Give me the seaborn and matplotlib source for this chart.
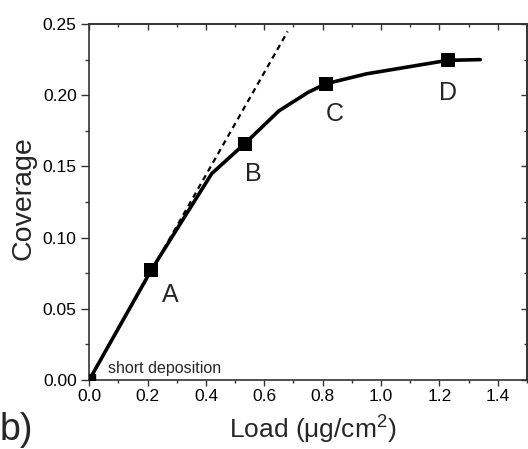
import matplotlib
matplotlib.use("Agg")
import matplotlib.pyplot as plt
from matplotlib.ticker import MultipleLocator, FormatStrFormatter
import seaborn as sns
import pandas as pd

# Coverage curve vs. load
load = [0.0, 0.212, 0.42, 0.533, 0.65, 0.75, 0.81, 0.95, 1.228, 1.34]
coverage = [0.0, 0.077, 0.145, 0.166, 0.189, 0.202, 0.208, 0.215, 0.2245, 0.225]

# Marked samples
point_names = ["A", "B", "C", "D"]
point_load = [0.212, 0.533, 0.81, 1.228]
point_cov = [0.077, 0.166, 0.208, 0.2245]

# Initial linear slope (short deposition)
tangent_load = [0.0, 0.68]
tangent_cov = [0.0, 0.2448]

sns.set_theme(style="ticks")
plt.rcParams["font.family"] = ["Liberation Sans", "DejaVu Sans"]
plt.rcParams["mathtext.fontset"] = "custom"
plt.rcParams["mathtext.rm"] = "Liberation Sans"
plt.rcParams["mathtext.it"] = "Liberation Sans:italic"

fig = plt.figure(figsize=(5.28, 4.49), dpi=100)
ax = fig.add_axes([0.169, 0.1537, 0.829, 0.7928])

curve = pd.DataFrame({"load": load, "coverage": coverage})
tangent = pd.DataFrame({"load": tangent_load, "coverage": tangent_cov})
points = pd.DataFrame({"load": point_load, "coverage": point_cov, "name": point_names})

sns.lineplot(data=tangent, x="load", y="coverage", ax=ax, color="black",
             lw=1.6, linestyle=(0, (2.5, 2.0)), sort=False)
sns.lineplot(data=curve, x="load", y="coverage", ax=ax, color="black",
             lw=2.6, sort=False)
sns.scatterplot(data=points, x="load", y="coverage", ax=ax, color="black",
                marker="s", s=95, edgecolor="black", linewidth=0, zorder=5)
ax.plot([0.0], [0.0], marker="s", ms=8, color="black", clip_on=True, zorder=5)

label_pos = {"A": (0.279, 0.060), "B": (0.564, 0.145),
             "C": (0.840, 0.187), "D": (1.231, 0.2018)}
for name in point_names:
    x, y = label_pos[name]
    ax.text(x, y, name, fontsize=18, ha="center", va="center")

ax.text(0.065, 0.005, "short deposition", fontsize=11.5, ha="left", va="baseline")

ax.set_xlim(0, 1.5)
ax.set_ylim(0, 0.25)
ax.xaxis.set_major_locator(MultipleLocator(0.2))
ax.xaxis.set_minor_locator(MultipleLocator(0.1))
ax.yaxis.set_major_locator(MultipleLocator(0.05))
ax.yaxis.set_minor_locator(MultipleLocator(0.025))
ax.xaxis.set_major_formatter(FormatStrFormatter("%.1f"))
ax.yaxis.set_major_formatter(FormatStrFormatter("%.2f"))
ax.set_xticks([0.0, 0.2, 0.4, 0.6, 0.8, 1.0, 1.2, 1.4])

# outward ticks on left/bottom
ax.tick_params(which="both", direction="out", color="#333333", width=1.0,
               labelsize=12.5, labelcolor="black")
ax.tick_params(axis="x", which="major", length=4.2, pad=2.5)
ax.tick_params(axis="x", which="minor", length=2.5)
ax.tick_params(axis="y", which="major", length=6, pad=3)
ax.tick_params(axis="y", which="minor", length=3)
for sp in ax.spines.values():
    sp.set_visible(True)
    sp.set_color("#333333")
    sp.set_linewidth(1.2)

# inward ticks on top/right
secx = ax.secondary_xaxis("top")
secx.xaxis.set_major_locator(MultipleLocator(0.2))
secx.xaxis.set_minor_locator(MultipleLocator(0.1))
secx.tick_params(which="both", direction="in", labeltop=False, color="#333333", width=1.0)
secx.tick_params(which="major", length=4.5)
secx.tick_params(which="minor", length=2.5)
secy = ax.secondary_yaxis("right")
secy.yaxis.set_major_locator(MultipleLocator(0.05))
secy.yaxis.set_minor_locator(MultipleLocator(0.025))
secy.tick_params(which="both", direction="in", labelright=False, color="#333333", width=1.0)
secy.tick_params(which="major", length=4.5)
secy.tick_params(which="minor", length=2.5)
for s in (secx, secy):
    for sp in s.spines.values():
        sp.set_color("#333333")
        sp.set_linewidth(1.2)

ax.set_xlabel("Load (\u03bcg/cm$^{\\mathrm{2}}$)", fontsize=19)
ax.set_ylabel("Coverage", fontsize=20.5)
ax.xaxis.set_label_coords(0.511, -0.096)
ax.yaxis.set_label_coords(-0.121, 0.51)
fig.text(0.0, 0.042, "b)", fontsize=27, ha="left", va="center")

fig.savefig("out.png", dpi=100)
